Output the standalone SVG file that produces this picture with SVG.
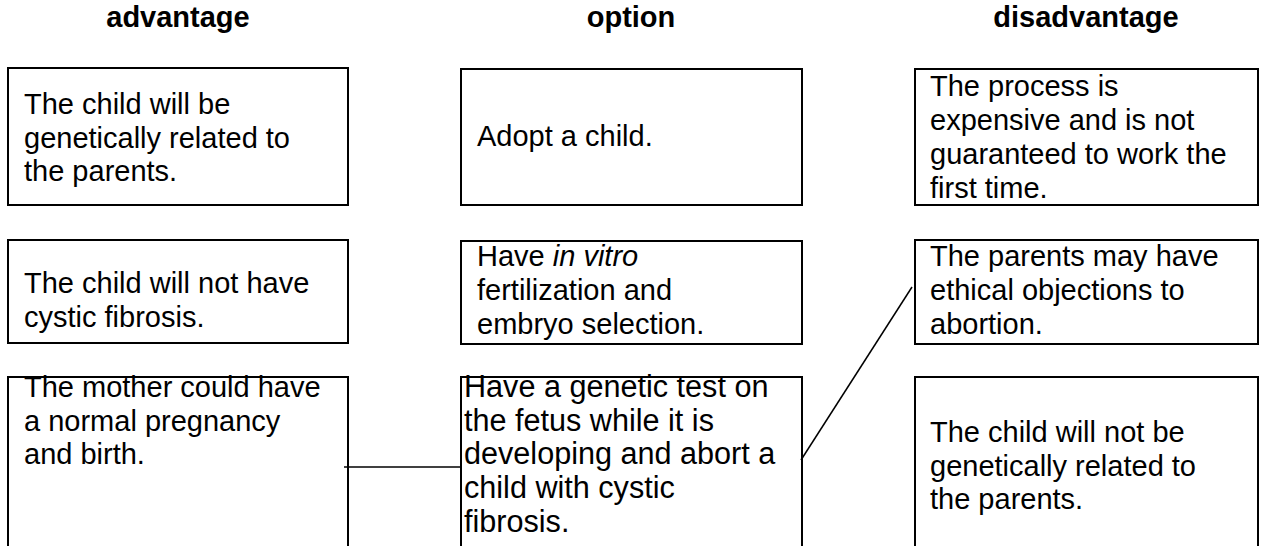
<svg xmlns="http://www.w3.org/2000/svg" width="1266" height="546" viewBox="0 0 1266 546">
<style>
.box{fill:#fff;stroke:#000;stroke-width:2}
.t{font-family:"Liberation Sans",Arial,sans-serif;font-size:29px;fill:#000}
.tl{font-family:"Liberation Sans",Arial,sans-serif;font-size:30.6px;fill:#000}
.h{font-family:"Liberation Sans",Arial,sans-serif;font-size:29px;font-weight:bold;fill:#000;text-anchor:middle}
.c{stroke:#000;stroke-width:1.5;fill:none}
</style>
<rect width="1266" height="546" fill="#fff"/>
<g id="headers">
<text class="h" x="178" y="27">advantage</text>
<text class="h" x="631" y="27">option</text>
<text class="h" x="1086" y="27">disadvantage</text>
</g>
<g id="adv1">
<rect class="box" x="8" y="68" width="340" height="137"/>
<text class="t" x="24" y="114">The child will be</text>
<text class="t" x="24" y="148">genetically related to</text>
<text class="t" x="24" y="181">the parents.</text>
</g>
<g id="opt1">
<rect class="box" x="461" y="69" width="341" height="136"/>
<text class="t" x="477" y="146">Adopt a child.</text>
</g>
<g id="dis1">
<rect class="box" x="915" y="69" width="343" height="136"/>
<text class="t" x="930" y="96">The process is</text>
<text class="t" x="930" y="130">expensive and is not</text>
<text class="t" x="930" y="164">guaranteed to work the</text>
<text class="t" x="930" y="198">first time.</text>
</g>
<g id="adv2">
<rect class="box" x="8" y="240" width="340" height="103"/>
<text class="t" x="24" y="293">The child will not have</text>
<text class="t" x="24" y="327">cystic fibrosis.</text>
</g>
<g id="opt2">
<rect class="box" x="461" y="241" width="341" height="103"/>
<text class="t" x="477" y="266">Have <tspan font-style="italic">in vitro</tspan></text>
<text class="t" x="477" y="300">fertilization and</text>
<text class="t" x="477" y="334">embryo selection.</text>
</g>
<g id="dis2">
<rect class="box" x="915" y="240" width="343" height="104"/>
<text class="t" x="930" y="266">The parents may have</text>
<text class="t" x="930" y="300">ethical objections to</text>
<text class="t" x="930" y="334">abortion.</text>
</g>
<g id="adv3">
<rect class="box" x="8" y="377" width="340" height="200"/>
<text class="t" x="24" y="397">The mother could have</text>
<text class="t" x="24" y="431">a normal pregnancy</text>
<text class="t" x="24" y="464">and birth.</text>
</g>
<g id="opt3">
<rect class="box" x="461" y="377" width="341" height="200"/>
<text class="tl" x="464" y="397">Have a genetic test on</text>
<text class="tl" x="464" y="431">the fetus while it is</text>
<text class="tl" x="464" y="464">developing and abort a</text>
<text class="tl" x="464" y="498">child with cystic</text>
<text class="tl" x="464" y="532">fibrosis.</text>
</g>
<g id="dis3">
<rect class="box" x="915" y="377" width="343" height="200"/>
<text class="t" x="930" y="442">The child will not be</text>
<text class="t" x="930" y="476">genetically related to</text>
<text class="t" x="930" y="509">the parents.</text>
</g>
<g id="connectors">
<line class="c" x1="344" y1="467" x2="461" y2="467"/>
<line class="c" x1="912" y1="287" x2="801" y2="460"/>
</g>
</svg>
